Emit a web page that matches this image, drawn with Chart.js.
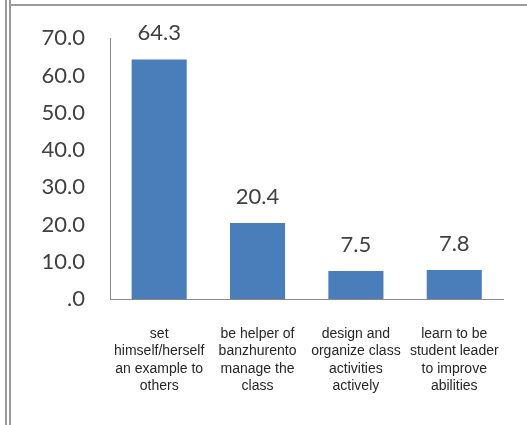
<!DOCTYPE html>
<html>
<head>
<meta charset="utf-8">
<script src="https://cdn.jsdelivr.net/npm/chart.js@4"></script>
<style>
  html, body { margin: 0; padding: 0; background: #fff; }
  #wrap { position: relative; width: 527px; height: 425px; overflow: hidden; }
  .ln { position: absolute; background: #9a9a9a; }
</style>
</head>
<body>
<div id="wrap">
  <canvas id="RoleChart" width="527" height="425"></canvas>
  <div class="ln" style="left:5px; top:0; width:2px; height:425px;"></div>
  <div class="ln" style="left:9px; top:0; width:2px; height:425px;"></div>
  <div class="ln" style="left:9px; top:4px; width:518px; height:2px;"></div>
</div>
<script>
// categorias e valores (%)
const roleLabels = [
    ['set', 'himself/herself', 'an example to', 'others'],
    ['be helper of', 'banzhurento', 'manage the', 'class'],
    ['design and', 'organize class', 'activities', 'actively'],
    ['learn to be', 'student leader', 'to improve', 'abilities']
];
const roleValues = [64.3, 20.4, 7.5, 7.8];
const yTicks = [0, 10, 20, 30, 40, 50, 60, 70];

function fmt(v) {
    return v === 0 ? '.0' : v.toFixed(1);
}

// rótulos em cima das barras
const valueLabels = {
    id: 'valueLabels',
    afterDatasetsDraw(chart) {
        const ctx = chart.ctx;
        const meta = chart.getDatasetMeta(0);
        ctx.save();
        ctx.font = '22px Lato';
        ctx.fillStyle = '#404040';
        ctx.textAlign = 'center';
        ctx.textBaseline = 'alphabetic';
        meta.data.forEach(function (bar, i) {
            ctx.fillText(fmt(roleValues[i]), bar.x, bar.y - 19);
        });
        ctx.restore();
    }
};

const ctx = document.getElementById('RoleChart').getContext('2d');
new Chart(ctx, {
    type: 'bar',
    data: {
        labels: roleLabels,
        datasets: [{
            data: roleValues,
            backgroundColor: '#4a7ebb',
            borderWidth: 0,
            barPercentage: 0.56,
            categoryPercentage: 1.0
        }]
    },
    options: {
        responsive: false,
        animation: false,
        layout: { padding: { top: 36, right: 19, left: 0, bottom: 0 } },
        plugins: {
            legend: { display: false },
            tooltip: { enabled: false }
        },
        scales: {
            x: {
                grid: { display: false, drawTicks: false },
                border: { display: true, color: '#8a8a8a', width: 1 },
                ticks: {
                    color: '#262626',
                    font: { family: 'Liberation Sans', size: 14, lineHeight: 1.25 },
                    padding: 26,
                    maxRotation: 0,
                    autoSkip: false
                },
                afterFit: function (scale) { scale.height = 126; }
            },
            y: {
                min: 0,
                max: 70,
                afterBuildTicks: function (scale) {
                    scale.ticks = yTicks.map(function (v) { return { value: v }; });
                },
                grid: { display: false, drawTicks: false },
                border: { display: true, color: '#8a8a8a', width: 1 },
                ticks: {
                    color: '#404040',
                    font: { family: 'Lato', size: 22 },
                    padding: 25,
                    callback: function (value) { return fmt(value); }
                },
                afterFit: function (scale) { scale.width = 110; }
            }
        }
    },
    plugins: [valueLabels]
});
</script>
</body>
</html>
